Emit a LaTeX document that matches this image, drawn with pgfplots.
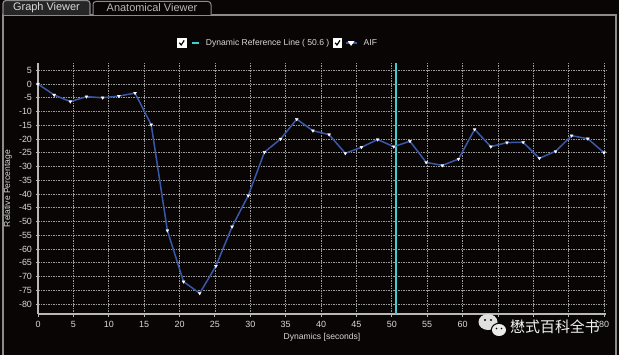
\documentclass[border=0pt]{standalone}
\usepackage{pgfplots}
\pgfplotsset{compat=1.18}
\usepackage{fontspec}
\setmainfont{Liberation Sans}
\newfontfamily\cjk{Noto Sans CJK SC}
\definecolor{bg}{HTML}{0A0505}
\definecolor{txt}{HTML}{D8D8D8}
\definecolor{aif}{HTML}{3A58A8}
\definecolor{refc}{HTML}{3CCFD0}
\definecolor{gridc}{HTML}{9A9A9A}
\definecolor{frame}{HTML}{8C8C8C}
\definecolor{tabfill}{HTML}{262626}
\begin{document}
\begin{tikzpicture}[x=1bp,y=1bp]
\useasboundingbox (0,0) rectangle (619,355);
\fill[bg] (0,0) rectangle (619,355);
% panel frame and tabs
\draw[frame, line width=1.2bp] (3,0) -- (3,340) -- (616,340) -- (616,0);
\draw[frame, line width=1bp, fill=bg, rounded corners=3bp] (93,340) -- (93,353.5) -- (211,353.5) -- (211,340);
\draw[frame, line width=1.2bp, fill=tabfill, rounded corners=3bp] (3,340) -- (3,354.5) -- (90,354.5) -- (90,340);
\node[text=txt, font=\fontsize{11}{12}\selectfont, inner sep=0] at (46.5,347) {Graph Viewer};
\node[text=txt!85!black, font=\fontsize{11}{12}\selectfont, inner sep=0] at (152,347) {Anatomical Viewer};
\begin{axis}[
  at={(38bp,41bp)}, anchor=south west,
  scale only axis, width=568bp, height=251bp,
  xmin=0, xmax=80.28, ymin=-83.64, ymax=7.64,
  axis lines*=left, axis line style={-, txt!85!black, line width=1.1bp},
  xtick={0,5,...,80}, ytick={-80,-75,...,5},
  xticklabels={0,5,10,15,20,25,30,35,40,45,50,55,60,,,,80},
  grid=major, major grid style={gridc, dash pattern=on 1.5bp off 1bp, line width=0.6bp},
  tick style={txt!85!black, line width=0.8bp}, tick align=outside, major tick length=2.5bp,
  ticklabel style={font=\fontsize{9}{9}\selectfont, text=txt},
  xticklabel style={yshift=-1bp},
  /pgf/number format/assume math mode=true,
  xlabel={Dynamics [seconds]}, ylabel={Relative Percentage},
  label style={font=\fontsize{8.6}{9}\selectfont, text=txt},
  xlabel style={at={(axis description cs:0.5,-0.0916)}, anchor=center},
  ylabel style={at={(axis description cs:-0.0528,0.5)}, anchor=center},
  legend columns=2,
  legend style={at={(axis description cs:0.2447,1.0797)}, anchor=west, draw=none, fill=none,
    inner sep=0pt, outer sep=0pt, text=txt, font=\fontsize{8.6}{9}\selectfont,
    nodes={inner sep=0.5bp},
    /tikz/every odd column/.append style={column sep=6bp},
    /tikz/every even column/.append style={column sep=3bp}},
  legend cell align=left,
]
\addplot[refc, line width=1.6bp,
  legend image code/.code={
    \fill[white] (0bp,-3.8bp) rectangle (8bp,3.8bp);
    \draw[black, line width=1.2bp] (1.6bp,0.2bp) -- (3.4bp,-2bp) -- (6.4bp,2.6bp);
    \draw[refc, line width=1.4bp] (14bp,0) -- (21bp,0);
  }] coordinates {(50.6,-83.64) (50.6,7.64)};
\addlegendentry{Dynamic Reference Line ( 50.6 )}
\addplot[aif, line width=1.5bp, mark=triangle*, mark size=1.7bp,
  mark options={white, draw=white, rotate=180, line width=0.3bp},
  legend image code/.code={
    \fill[white] (0bp,-3.8bp) rectangle (8bp,3.8bp);
    \draw[black, line width=1.2bp] (1.6bp,0.2bp) -- (3.4bp,-2bp) -- (6.4bp,2.6bp);
    \draw[aif, line width=1.2bp] (12bp,0) -- (23bp,0);
    \fill[white] (15.5bp,1.2bp) -- (19.5bp,1.2bp) -- (17.5bp,-1.6bp) -- cycle;
  }] coordinates {
(0,0) (2.2857,-4) (4.5714,-6.4) (6.8571,-4.6) (9.1429,-5) (11.4286,-4.4)
(13.7143,-3.3) (16,-14.8) (18.2857,-53.3) (20.5714,-71.9) (22.8571,-76.1)
(25.1429,-66.2) (27.4286,-51.9) (29.7143,-40.6) (32,-24.8) (34.2857,-20)
(36.5714,-12.8) (38.8571,-17) (41.1429,-18.4) (43.4286,-25.2) (45.7143,-23)
(48,-20.2) (50.2857,-22.8) (52.5714,-20.8) (54.8571,-28.5) (57.1429,-29.6)
(59.4286,-27.3) (61.7143,-16.5) (64,-22.8) (66.2857,-21.3) (68.5714,-21.2)
(70.8571,-27) (73.1429,-24.5) (75.4286,-18.8) (77.7143,-19.9) (80,-25)
};
\addlegendentry{AIF}
\end{axis}
% watermark
\fill[white!88!black] (488,33) ellipse (9.5bp and 8bp);
\fill[bg] (499,25) ellipse (8.2bp and 7.2bp);
\fill[white!92!black] (499,25) ellipse (7bp and 6bp);
\fill[bg] (485,35) circle (1.1bp); \fill[bg] (491,35) circle (1.1bp);
\fill[bg] (496.5,26.5) circle (0.9bp); \fill[bg] (501.5,26.5) circle (0.9bp);
\node[anchor=west, text=white!95!black, font=\cjk\fontsize{15}{15}\selectfont, inner sep=0] at (510,28) {懋式百科全书};
\end{tikzpicture}
\end{document}
